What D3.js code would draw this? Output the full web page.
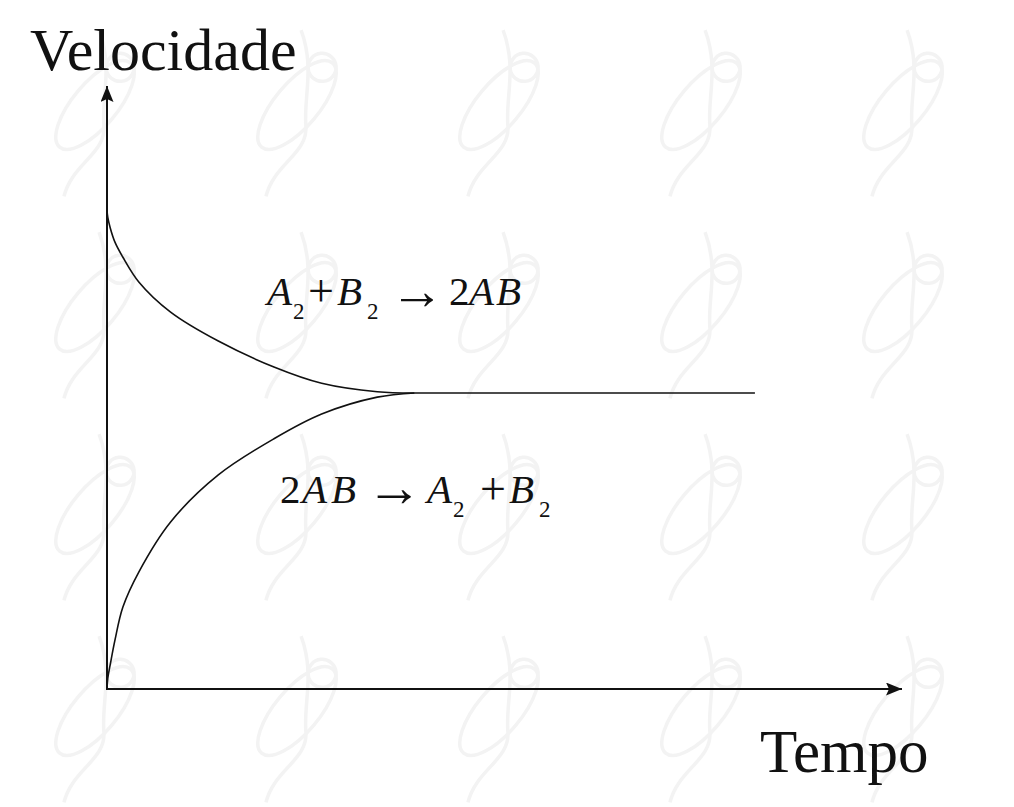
<!DOCTYPE html>
<html><head><meta charset="utf-8">
<script src="https://cdn.jsdelivr.net/npm/d3@7"></script>
<style>html,body{margin:0;padding:0;background:#fff;}</style>
</head><body>
<svg id="chart" width="1014" height="807"></svg>
<script>
// Data (arbitrary units)
const time = [0, 0.1, 0.4, 1, 2, 4, 8, 14, 21, 27, 34, 38.7];
const forwardRate = [79.4, 78.2, 76.5, 74.1, 71.6, 67.5, 62.5, 57.7, 53.4, 50.7, 49.3, 49.1];
const reverseRate = [0, 1.8, 4.0, 8.1, 13.6, 19.4, 27.7, 35.5, 41.5, 45.6, 48.4, 49.1];
const equilibriumTime = [38.7, 81.5];
const equilibriumRate = [49.1, 49.1];
const yLabel = "Velocidade";
const xLabel = "Tempo";

const svg = d3.select("#chart");
const x = d3.scaleLinear().domain([0, 100]).range([107, 902]);
const y = d3.scaleLinear().domain([0, 100]).range([689, 86]);

// faint watermark swirls
const wm = svg.append("g").attr("fill", "none").attr("stroke", "#f3f3f3").attr("stroke-width", 3.5);
const cols = [95, 297, 499, 701, 903], rows = [105, 307, 509, 711];
rows.forEach(ry => cols.forEach(cx => {
  const g = wm.append("g").attr("transform", `translate(${cx},${ry}) rotate(-50)`);
  g.append("ellipse").attr("cx", 0).attr("cy", 0).attr("rx", 55).attr("ry", 22);
  g.append("path").attr("d", "M-90,35 C-60,20 -30,40 -10,20 C10,0 40,-10 60,-45");
  g.append("circle").attr("cx", 45).attr("cy", -5).attr("r", 14);
}));

// axes with arrows
const defs = svg.append("defs");
defs.append("marker").attr("id", "arr").attr("viewBox", "0 0 16 13")
  .attr("refX", 16).attr("refY", 6.5).attr("markerWidth", 16).attr("markerHeight", 13)
  .attr("markerUnits", "userSpaceOnUse").attr("orient", "auto")
  .append("path").attr("d", "M0,0 L16,6.5 L0,13 L3,6.5 Z").attr("fill", "#111");

svg.append("line").attr("x1", x(0)).attr("y1", y(0)).attr("x2", x(0)).attr("y2", y(100))
  .attr("stroke", "#111").attr("stroke-width", 2).attr("marker-end", "url(#arr)");
svg.append("line").attr("x1", x(0) - 1).attr("y1", y(0)).attr("x2", x(100)).attr("y2", y(0))
  .attr("stroke", "#111").attr("stroke-width", 2).attr("marker-end", "url(#arr)");

const line = d3.line().x(d => x(d[0])).y(d => y(d[1])).curve(d3.curveCatmullRom.alpha(0.5));
[forwardRate, reverseRate].forEach(series => {
  svg.append("path").datum(time.map((t, i) => [t, series[i]]))
    .attr("d", line).attr("fill", "none").attr("stroke", "#111").attr("stroke-width", 1.6);
});
svg.append("path").datum(equilibriumTime.map((t, i) => [t, equilibriumRate[i]]))
  .attr("d", line).attr("fill", "none").attr("stroke", "#111").attr("stroke-width", 1.6);

// labels
const serif = "'Liberation Serif', 'Times New Roman', serif";
svg.append("text").text(yLabel).attr("x", 30).attr("y", 70)
  .attr("font-family", serif).attr("font-size", 60).attr("fill", "#111");
svg.append("text").text(xLabel).attr("x", 760).attr("y", 772)
  .attr("font-family", serif).attr("font-size", 61).attr("fill", "#111");

// equations: each glyph group positioned explicitly
function eq(base, parts) {
  const t = svg.append("text").attr("font-family", serif).attr("font-size", 41).attr("fill", "#111");
  parts.forEach(p => {
    const s = t.append("tspan").text(p.t).attr("x", p.x).attr("y", base + (p.dy || 0));
    if (p.i) s.attr("font-style", "italic");
    if (p.fs) s.attr("font-size", p.fs);
  });
}
const SUB = {fs: 23, dy: 14};
eq(305, [
  {t: "A", i: 1, x: 267}, {t: "2", x: 293, ...SUB}, {t: "+", x: 308, fs: 46, dy: 1}, {t: "B", i: 1, x: 337},
  {t: "2", x: 367, ...SUB}, {t: "\u2192", x: 390, fs: 54, dy: 4}, {t: "2", x: 449},
  {t: "A", i: 1, x: 469}, {t: "B", i: 1, x: 496}
]);
eq(503, [
  {t: "2", x: 280}, {t: "A", i: 1, x: 302}, {t: "B", i: 1, x: 331},
  {t: "\u2192", x: 366, fs: 56, dy: 3}, {t: "A", i: 1, x: 427}, {t: "2", x: 453, ...SUB},
  {t: "+", x: 480, fs: 46, dy: 1}, {t: "B", i: 1, x: 509}, {t: "2", x: 539, ...SUB}
]);
</script>
</body></html>
